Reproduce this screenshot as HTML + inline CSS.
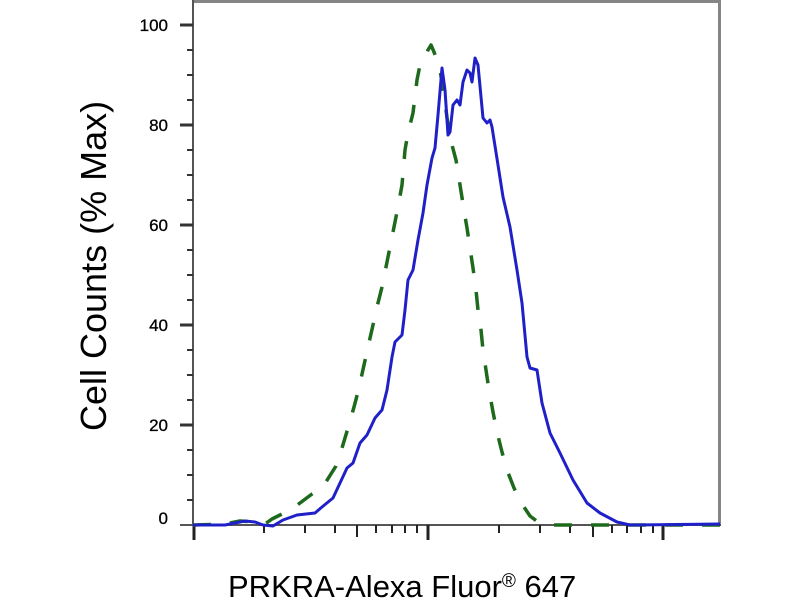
<!DOCTYPE html>
<html><head><meta charset="utf-8"><style>
html,body{margin:0;padding:0;background:#fff;}
svg{display:block;}
</style></head><body>
<svg width="800" height="600" viewBox="0 0 800 600" xmlns="http://www.w3.org/2000/svg">
<rect width="800" height="600" fill="#fff"/>
<!-- frame -->
<line x1="193" y1="1.5" x2="720" y2="1.5" stroke="#858585" stroke-width="3"/>
<line x1="719.5" y1="0" x2="719.5" y2="526" stroke="#858585" stroke-width="3"/>
<line x1="193" y1="0" x2="193" y2="526" stroke="#555" stroke-width="2"/>
<line x1="180" y1="525" x2="721" y2="525" stroke="#555" stroke-width="2"/>
<!-- y ticks -->
<g stroke="#333" stroke-width="3">
<line x1="180" y1="25" x2="193" y2="25"/>
<line x1="180" y1="125" x2="193" y2="125"/>
<line x1="180" y1="225" x2="193" y2="225"/>
<line x1="180" y1="325" x2="193" y2="325"/>
<line x1="180" y1="425" x2="193" y2="425"/>
</g>
<g stroke="#333" stroke-width="2">
<line x1="187" y1="50" x2="193" y2="50"/><line x1="187" y1="75" x2="193" y2="75"/><line x1="187" y1="100" x2="193" y2="100"/>
<line x1="187" y1="150" x2="193" y2="150"/><line x1="187" y1="175" x2="193" y2="175"/><line x1="187" y1="200" x2="193" y2="200"/>
<line x1="187" y1="250" x2="193" y2="250"/><line x1="187" y1="275" x2="193" y2="275"/><line x1="187" y1="300" x2="193" y2="300"/>
<line x1="187" y1="350" x2="193" y2="350"/><line x1="187" y1="375" x2="193" y2="375"/><line x1="187" y1="400" x2="193" y2="400"/>
<line x1="187" y1="450" x2="193" y2="450"/><line x1="187" y1="475" x2="193" y2="475"/><line x1="187" y1="500" x2="193" y2="500"/>
</g>
<!-- x ticks -->
<g stroke="#222" stroke-width="3">
<line x1="194" y1="525" x2="194" y2="540"/>
<line x1="428" y1="525" x2="428" y2="540"/>
<line x1="663" y1="525" x2="663" y2="540"/>
</g>
<g stroke="#222" stroke-width="2">
<line x1="264" y1="525" x2="264" y2="533"/><line x1="305" y1="525" x2="305" y2="533"/><line x1="335" y1="525" x2="335" y2="533"/>
<line x1="357" y1="525" x2="357" y2="537"/><line x1="376" y1="525" x2="376" y2="533"/><line x1="392" y1="525" x2="392" y2="533"/>
<line x1="405" y1="525" x2="405" y2="533"/><line x1="417" y1="525" x2="417" y2="533"/>
<line x1="499" y1="525" x2="499" y2="533"/><line x1="540" y1="525" x2="540" y2="533"/><line x1="570" y1="525" x2="570" y2="533"/>
<line x1="593" y1="525" x2="593" y2="537"/><line x1="612" y1="525" x2="612" y2="533"/><line x1="627" y1="525" x2="627" y2="533"/>
<line x1="641" y1="525" x2="641" y2="533"/><line x1="653" y1="525" x2="653" y2="533"/>
</g>
<!-- y tick labels -->
<g font-family="Liberation Sans, Arial, sans-serif" font-size="17" fill="#000" stroke="#000" stroke-width="0.3" text-anchor="end">
<text x="168" y="31">100</text>
<text x="168" y="131">80</text>
<text x="168" y="231">60</text>
<text x="168" y="331">40</text>
<text x="168" y="431">20</text>
<text x="168" y="524">0</text>
</g>
<!-- green dashed -->
<polyline fill="none" stroke="#1d6a1d" stroke-width="3.5" stroke-dasharray="18 19" stroke-linejoin="round"
points="193,525 225,524 240,521 255,522 265,524 272,519 280,515 290,510 300,503 312,494 324,485 336,466 342,448 348,428 354,407 359,388 364,365 368,347 373,325 377,307 382,287 386,267 390,247 394,227 398,207 402,185 405,150 408,133 413,113 417,80 420,65 425,58 428,50 431,45 434,52 437,60 440,70 444,95 448,125 452,145 456,160 460,185 464,210 467,228 470,248 473,268 476,290 478,310 481,330 483,350 486,370 489,390 493,412 497,432 502,452 507,470 514,488 520,500 524,507 530,516 538,522 548,525 720,525"/>
<!-- blue solid -->
<polyline fill="none" stroke="#2020c8" stroke-width="3" stroke-linejoin="round"
points="193,525 225,525 235,523 245,521 255,522 263,525 273,526 283,520 297,515 315,513 322,507 333,498 340,483 347,468 353,463 360,443 367,435 375,418 382,410 387,390 392,357 395,342 402,335 405,310 408,280 413,270 418,240 423,213 427,185 432,158 435,148 438,115 442,68 445,90 448,135 450,132 453,105 457,100 460,105 463,82 467,70 470,73 472,82 475,58 478,65 483,118 487,123 490,120 492,127 498,165 503,197 510,227 517,270 522,303 527,357 530,368 537,370 542,403 550,433 560,453 573,480 587,503 600,513 617,522 630,525 720,524"/>
<!-- axis titles -->
<text transform="translate(106,431) rotate(-90)" font-family="Liberation Sans, Arial, sans-serif" font-size="36" fill="#000">Cell Counts (% Max)</text>
<text x="228" y="597" font-family="Liberation Sans, Arial, sans-serif" font-size="31" fill="#000">PRKRA-Alexa Fluor<tspan font-size="19" dy="-10">®</tspan><tspan dy="10"> 647</tspan></text>
</svg>
</body></html>
